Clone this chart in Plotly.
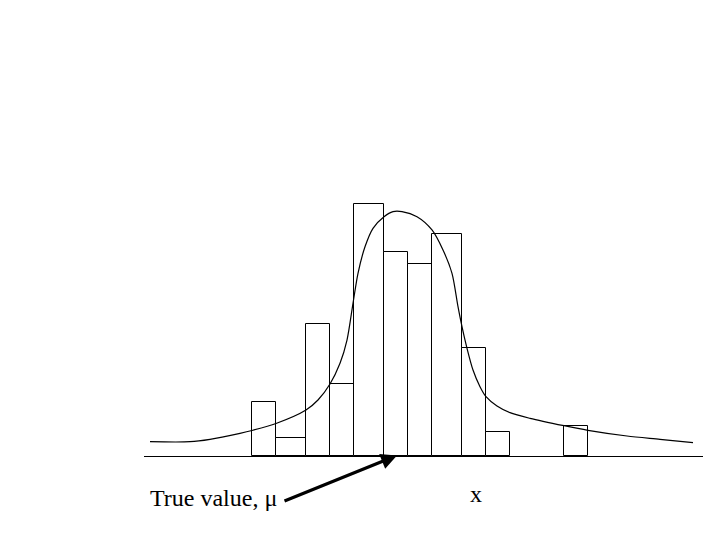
import plotly.graph_objects as go

# Histogram bins (horizontal units) and counts
bin_lo = [252, 276, 306, 330, 354, 384, 408, 432, 462, 486, 564]
bin_hi = [276, 306, 330, 354, 384, 408, 432, 462, 486, 510, 588]
counts = [9, 3, 22, 12, 42, 34, 32, 37, 18, 4, 5]

# Fitted curve
curve_x = [150, 190, 210, 240, 252, 276, 306, 318, 330, 340, 347, 353, 358, 365,
           373, 384, 393, 402, 417, 432, 443, 452, 458, 462, 467, 473, 480, 486,
           497, 510, 530, 564, 588, 627, 660, 693]
curve_y = [2.38, 2.38, 2.78, 3.78, 4.25, 5.42, 7.67, 9.33, 12.0, 15.45, 19.33,
           25.45, 30.45, 34.88, 37.95, 39.88, 40.72, 40.72, 39.88, 37.67, 34.33,
           30.45, 24.88, 21.55, 17.95, 14.33, 11.55, 9.88, 8.33, 7.22, 6.28, 5.05,
           4.28, 3.33, 2.78, 2.22]

true_value = 397
label_text = "True value, \u03bc"
axis_text = "x"

centers = [(a + b) / 2 for a, b in zip(bin_lo, bin_hi)]
widths = [b - a for a, b in zip(bin_lo, bin_hi)]

fig = go.Figure()
fig.add_trace(go.Bar(
    x=centers, y=counts, width=widths,
    marker=dict(color="white", line=dict(color="black", width=1)),
    hoverinfo="skip",
))
fig.add_trace(go.Scatter(
    x=curve_x, y=curve_y, mode="lines",
    line=dict(color="black", width=1.2, shape="spline", smoothing=0.8),
    hoverinfo="skip",
))

fig.add_annotation(
    x=true_value, y=0.1, xref="x", yref="y",
    ax=283, ay=-7.6, axref="x", ayref="y",
    text="", showarrow=True, arrowhead=2, arrowsize=1, arrowwidth=3.2,
    arrowcolor="black", standoff=0,
)
fig.add_annotation(
    x=148, y=-7.0, xref="x", yref="y", text=label_text, showarrow=False,
    xanchor="left", yanchor="middle",
    font=dict(family="Liberation Serif", size=24, color="black"),
)
fig.add_annotation(
    x=476, y=-6.3, xref="x", yref="y", text=axis_text, showarrow=False,
    xanchor="center", yanchor="middle",
    font=dict(family="Liberation Serif", size=24, color="black"),
)

# page has an 8px body margin: shift the plot area to compensate
fig.update_layout(
    width=720, height=540,
    margin=dict(l=0, r=0, t=0, b=0),
    paper_bgcolor="white", plot_bgcolor="white",
    showlegend=False, bargap=0,
    xaxis=dict(domain=[136 / 720, 695 / 720], range=[144, 703],
               showgrid=False, zeroline=False, showticklabels=False,
               ticks="", showline=False),
    yaxis=dict(range=[-92 / 6, 448 / 6], showgrid=False, zeroline=True,
               zerolinecolor="black", zerolinewidth=1,
               showticklabels=False, ticks="", showline=False),
)

fig.write_html("out.html")
